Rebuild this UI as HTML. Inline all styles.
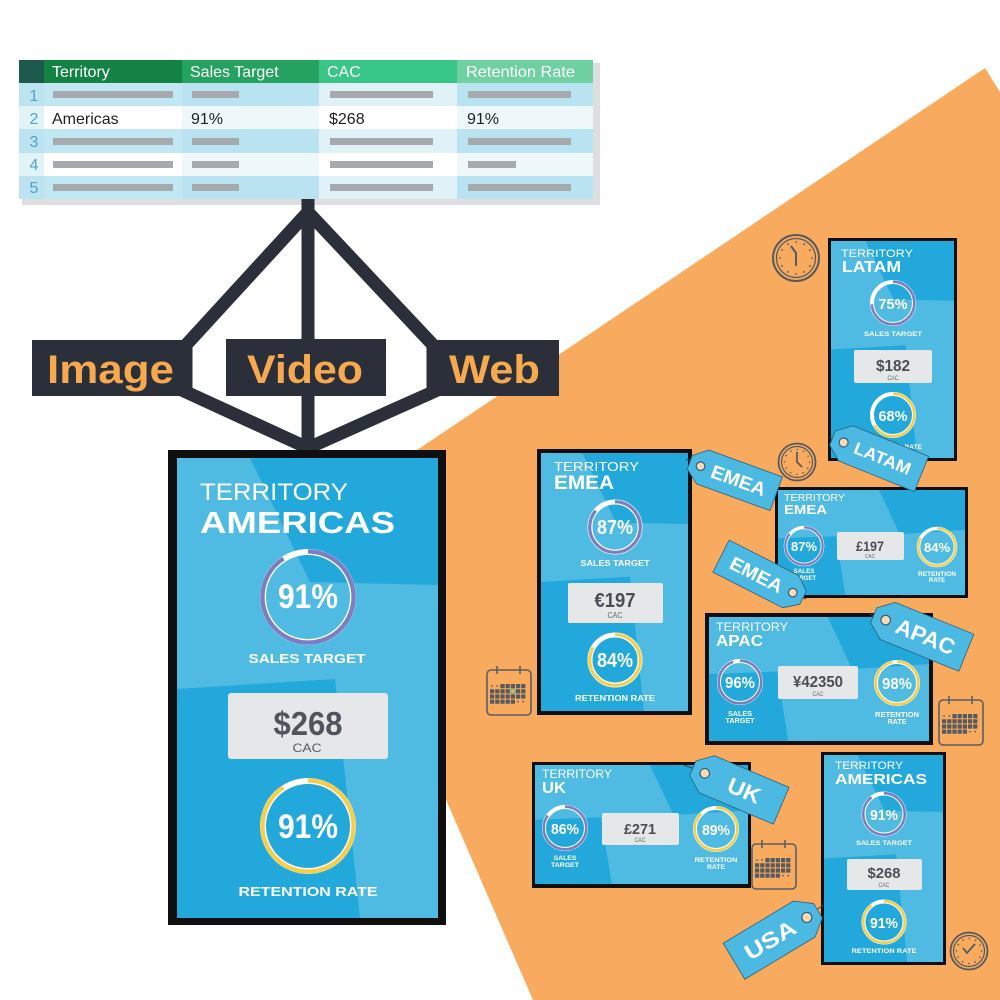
<!DOCTYPE html>
<html>
<head>
<meta charset="utf-8">
<style>
html,body{margin:0;padding:0;background:#fff;}
svg{display:block;}
text{font-family:"Liberation Sans",Arial,sans-serif;}
</style>
</head>
<body>
<svg width="1000" height="1000" viewBox="0 0 1000 1000" xmlns="http://www.w3.org/2000/svg">
<rect width="1000" height="1000" fill="#ffffff"/>
<!-- orange background -->
<polygon points="985,68 1000,92 1000,1000 533,1000 322,514" fill="#f8ab5e"/>

<!-- ===== TABLE ===== -->
<rect x="22" y="63" width="578" height="142" fill="#dcdee0"/>
<rect x="19" y="60" width="25" height="23" fill="#1c5b4b"/>
<rect x="44" y="60" width="138" height="23" fill="#138244"/>
<rect x="182" y="60" width="137" height="23" fill="#25a260"/>
<rect x="319" y="60" width="138" height="23" fill="#37c688"/>
<rect x="457" y="60" width="136" height="23" fill="#6fd1a1"/>
<!-- rows -->
<g>
<rect x="19" y="83" width="25" height="23" fill="#bce3ef"/><rect x="44" y="83" width="138" height="23" fill="#c1e7f2"/><rect x="182" y="83" width="137" height="23" fill="#b9e3f0"/><rect x="319" y="83" width="138" height="23" fill="#e0f2f8"/><rect x="457" y="83" width="136" height="23" fill="#b9e3f0"/>
<rect x="19" y="106" width="25" height="23" fill="#e2f3f8"/><rect x="44" y="106" width="138" height="23" fill="#ffffff"/><rect x="182" y="106" width="137" height="23" fill="#eef8fb"/><rect x="319" y="106" width="138" height="23" fill="#ffffff"/><rect x="457" y="106" width="136" height="23" fill="#eef8fb"/>
<rect x="19" y="129" width="25" height="24" fill="#bce3ef"/><rect x="44" y="129" width="138" height="24" fill="#c1e7f2"/><rect x="182" y="129" width="137" height="24" fill="#b9e3f0"/><rect x="319" y="129" width="138" height="24" fill="#e0f2f8"/><rect x="457" y="129" width="136" height="24" fill="#b9e3f0"/>
<rect x="19" y="153" width="25" height="23" fill="#e2f3f8"/><rect x="44" y="153" width="138" height="23" fill="#ffffff"/><rect x="182" y="153" width="137" height="23" fill="#eef8fb"/><rect x="319" y="153" width="138" height="23" fill="#ffffff"/><rect x="457" y="153" width="136" height="23" fill="#eef8fb"/>
<rect x="19" y="176" width="25" height="23" fill="#bce3ef"/><rect x="44" y="176" width="138" height="23" fill="#c1e7f2"/><rect x="182" y="176" width="137" height="23" fill="#b9e3f0"/><rect x="319" y="176" width="138" height="23" fill="#e0f2f8"/><rect x="457" y="176" width="136" height="23" fill="#b9e3f0"/>
</g>
<!-- bars -->
<g fill="#a6a9ae">
<rect x="53" y="91" width="120" height="7"/><rect x="192" y="91" width="47" height="7"/><rect x="330" y="91" width="103" height="7"/><rect x="468" y="91" width="103" height="7"/>
<rect x="53" y="138" width="120" height="7"/><rect x="192" y="138" width="47" height="7"/><rect x="330" y="138" width="103" height="7"/><rect x="468" y="138" width="103" height="7"/>
<rect x="53" y="161" width="120" height="7"/><rect x="192" y="161" width="47" height="7"/><rect x="330" y="161" width="103" height="7"/><rect x="468" y="161" width="48" height="7"/>
<rect x="53" y="184" width="120" height="7"/><rect x="192" y="184" width="47" height="7"/><rect x="330" y="184" width="103" height="7"/><rect x="468" y="184" width="103" height="7"/>
</g>
<g font-size="16" fill="#ffffff">
<text x="52" y="77">Territory</text>
<text x="190" y="77">Sales Target</text>
<text x="327" y="77">CAC</text>
<text x="466" y="77" textLength="109" lengthAdjust="spacingAndGlyphs">Retention Rate</text>
</g>
<g font-size="16" fill="#4aa6cf" text-anchor="middle">
<text x="34" y="101">1</text><text x="34" y="124">2</text><text x="34" y="147">3</text><text x="34" y="170">4</text><text x="34" y="193">5</text>
</g>
<g font-size="16" fill="#222">
<text x="52" y="124">Americas</text><text x="191" y="124">91%</text><text x="329" y="124">$268</text><text x="467" y="124">91%</text>
</g>

<!-- ===== CONNECTOR ===== -->
<g stroke="#2a2f39" stroke-width="13" fill="none">
<path d="M308,212 L186,345 L186,392 L308,448 L433,392 L433,345 Z" stroke-linejoin="miter"/>
<line x1="308" y1="199" x2="308" y2="450"/>
</g>
<rect x="32" y="340" width="160" height="56" fill="#2a2f39"/>
<rect x="226" y="339" width="160" height="57" fill="#2a2f39"/>
<rect x="427" y="340" width="132" height="56" fill="#2a2f39"/>
<g font-size="40" font-weight="bold" fill="#f6a94f">
<text x="47" y="383" textLength="127" lengthAdjust="spacingAndGlyphs">Image</text>
<text x="247" y="383" textLength="116" lengthAdjust="spacingAndGlyphs">Video</text>
<text x="449" y="383" textLength="91" lengthAdjust="spacingAndGlyphs">Web</text>
</g>

<!-- ===== MAIN CARD ===== -->
<rect x="168" y="450" width="278" height="475" fill="#0f0f0f"/>
<rect x="177" y="458" width="261" height="460" fill="#22a8da"/>
<polygon points="177,458 250,458 310,582 438,585 438,918 360,918 335,679 177,689" fill="#4fbae2"/>
<g fill="#fff">
<text x="200" y="500" font-size="24" textLength="148" lengthAdjust="spacingAndGlyphs">TERRITORY</text>
<text x="200" y="533" font-size="31" font-weight="bold" textLength="195" lengthAdjust="spacingAndGlyphs">AMERICAS</text>
</g>
<circle cx="308" cy="597" r="45" fill="none" stroke="#fff" stroke-width="6"/>
<circle cx="308" cy="597" r="45.6" fill="none" stroke="#7b7ec0" stroke-width="4.4" stroke-dasharray="260.2 400" transform="rotate(-90 308 597)"/>
<text x="308" y="608" font-size="34" font-weight="bold" fill="#fff" text-anchor="middle" textLength="60" lengthAdjust="spacingAndGlyphs">91%</text>
<text x="307" y="663" font-size="13" font-weight="bold" fill="#fff" text-anchor="middle" textLength="117" lengthAdjust="spacingAndGlyphs">SALES TARGET</text>
<rect x="228" y="693" width="160" height="66" rx="3" fill="#e6e7e9"/>
<text x="308" y="735" font-size="33" font-weight="bold" fill="#50545c" text-anchor="middle" textLength="69" lengthAdjust="spacingAndGlyphs">$268</text>
<text x="307" y="752" font-size="12" fill="#555a60" text-anchor="middle" textLength="29" lengthAdjust="spacingAndGlyphs">CAC</text>
<circle cx="308" cy="826" r="45" fill="none" stroke="#fff" stroke-width="6"/>
<circle cx="308" cy="826" r="45.6" fill="none" stroke="#f5cf4a" stroke-width="4.4" stroke-dasharray="260.2 400" transform="rotate(-90 308 826)"/>
<text x="308" y="838" font-size="34" font-weight="bold" fill="#fff" text-anchor="middle" textLength="60" lengthAdjust="spacingAndGlyphs">91%</text>
<text x="308" y="896" font-size="13" font-weight="bold" fill="#fff" text-anchor="middle" textLength="139" lengthAdjust="spacingAndGlyphs">RETENTION RATE</text>

<!-- ===== LATAM CARD ===== -->
<rect x="828" y="238" width="129" height="223" fill="#0f0f0f"/>
<rect x="831" y="241" width="123" height="217" fill="#22a8da"/>
<polygon points="831,241 865.4,241 893.7,299.6 954,300.7 954,458 917.1,458 905.4,345.2 831,349.5" fill="#4fbae2"/>
<text x="841" y="257" font-size="11" fill="#fff" textLength="72" lengthAdjust="spacingAndGlyphs">TERRITORY</text>
<text x="842" y="272" font-size="16" font-weight="bold" fill="#fff" textLength="59" lengthAdjust="spacingAndGlyphs">LATAM</text>
<circle cx="893" cy="303" r="21" fill="none" stroke="#fff" stroke-width="4"/>
<circle cx="893" cy="303" r="21.3" fill="none" stroke="#7b7ec0" stroke-width="2.6" stroke-dasharray="98.9 200" transform="rotate(-90 893 303)"/>
<text x="893" y="309" font-size="15" font-weight="bold" fill="#fff" text-anchor="middle" textLength="29" lengthAdjust="spacingAndGlyphs">75%</text>
<text x="893" y="336" font-size="6.5" font-weight="bold" fill="#fff" text-anchor="middle" textLength="58" lengthAdjust="spacingAndGlyphs">SALES TARGET</text>
<rect x="854" y="350" width="78" height="33" rx="2" fill="#e6e7e9"/>
<text x="893" y="371" font-size="16" font-weight="bold" fill="#4a4e56" text-anchor="middle" textLength="34" lengthAdjust="spacingAndGlyphs">$182</text>
<text x="893" y="380" font-size="6" fill="#666" text-anchor="middle" textLength="11" lengthAdjust="spacingAndGlyphs">CAC</text>
<circle cx="893" cy="415" r="21" fill="none" stroke="#fff" stroke-width="4"/>
<circle cx="893" cy="415" r="21.3" fill="none" stroke="#f5cf4a" stroke-width="2.6" stroke-dasharray="89.7 200" transform="rotate(-90 893 415)"/>
<text x="893" y="421" font-size="15" font-weight="bold" fill="#fff" text-anchor="middle" textLength="29" lengthAdjust="spacingAndGlyphs">68%</text>
<text x="893" y="449" font-size="6.5" font-weight="bold" fill="#fff" text-anchor="middle" textLength="58" lengthAdjust="spacingAndGlyphs">RETENTION RATE</text>

<!-- clock A -->
<g fill="none" stroke="#565a60">
<circle cx="796" cy="258" r="23" stroke-width="2"/>
<circle cx="796" cy="258" r="19.5" stroke-width="1.3"/>
<circle cx="796" cy="258" r="16" stroke-width="1.8" stroke-linecap="round" stroke-dasharray="0.01 8.367"/>
<polyline points="791,246 796,253 796,266" stroke-width="2"/>
</g>

<!-- ===== EMEA VERTICAL ===== -->
<rect x="537" y="449" width="155" height="266" fill="#0f0f0f"/>
<rect x="541" y="453" width="147" height="258" fill="#22a8da"/>
<polygon points="541,453 582.2,453 616,522.7 688,524 688,711 643.9,711 629.9,576.8 541,582" fill="#4fbae2"/>
<text x="554" y="471" font-size="13" fill="#fff" textLength="85" lengthAdjust="spacingAndGlyphs">TERRITORY</text>
<text x="554" y="489" font-size="19" font-weight="bold" fill="#fff" textLength="60" lengthAdjust="spacingAndGlyphs">EMEA</text>
<circle cx="615" cy="527" r="25" fill="none" stroke="#fff" stroke-width="5"/>
<circle cx="615" cy="527" r="25.3" fill="none" stroke="#7b7ec0" stroke-width="3.2" stroke-dasharray="136.7 300" transform="rotate(-90 615 527)"/>
<text x="615" y="534" font-size="20" font-weight="bold" fill="#fff" text-anchor="middle" textLength="36" lengthAdjust="spacingAndGlyphs">87%</text>
<text x="615" y="566" font-size="8.5" font-weight="bold" fill="#fff" text-anchor="middle" textLength="69" lengthAdjust="spacingAndGlyphs">SALES TARGET</text>
<rect x="568" y="583" width="95" height="40" rx="2" fill="#e6e7e9"/>
<text x="615" y="607" font-size="20" font-weight="bold" fill="#4a4e56" text-anchor="middle" textLength="41" lengthAdjust="spacingAndGlyphs">€197</text>
<text x="615" y="618" font-size="8" fill="#666" text-anchor="middle" textLength="15" lengthAdjust="spacingAndGlyphs">CAC</text>
<circle cx="615" cy="660" r="25" fill="none" stroke="#fff" stroke-width="5"/>
<circle cx="615" cy="660" r="25.3" fill="none" stroke="#f5cf4a" stroke-width="3.2" stroke-dasharray="132 300" transform="rotate(-90 615 660)"/>
<text x="615" y="667" font-size="20" font-weight="bold" fill="#fff" text-anchor="middle" textLength="36" lengthAdjust="spacingAndGlyphs">84%</text>
<text x="615" y="701" font-size="8.5" font-weight="bold" fill="#fff" text-anchor="middle" textLength="80" lengthAdjust="spacingAndGlyphs">RETENTION RATE</text>

<!-- ===== EMEA HORIZONTAL ===== -->
<rect x="775" y="487" width="193" height="111" fill="#0f0f0f"/>
<rect x="778" y="490" width="187" height="105" fill="#22a8da"/>
<polygon points="778,490 879,490 899.6,534.1 965,529.9 965,595 845.3,595 836,536.2 778,538.3" fill="#4fbae2"/>
<text x="784" y="501" font-size="10" fill="#fff" textLength="61" lengthAdjust="spacingAndGlyphs">TERRITORY</text>
<text x="784" y="514" font-size="13" font-weight="bold" fill="#fff" textLength="43" lengthAdjust="spacingAndGlyphs">EMEA</text>
<circle cx="804" cy="546" r="18.5" fill="none" stroke="#fff" stroke-width="3.6"/>
<circle cx="804" cy="546" r="18.7" fill="none" stroke="#7b7ec0" stroke-width="2.3" stroke-dasharray="101.1 200" transform="rotate(-90 804 546)"/>
<text x="804" y="551" font-size="13" font-weight="bold" fill="#fff" text-anchor="middle" textLength="26" lengthAdjust="spacingAndGlyphs">87%</text>
<text x="804" y="573" font-size="6" font-weight="bold" fill="#fff" text-anchor="middle" textLength="21" lengthAdjust="spacingAndGlyphs">SALES</text>
<text x="804" y="580" font-size="6" font-weight="bold" fill="#fff" text-anchor="middle" textLength="24" lengthAdjust="spacingAndGlyphs">TARGET</text>
<rect x="837" y="532" width="67" height="28" rx="2" fill="#e6e7e9"/>
<text x="870" y="551" font-size="14" font-weight="bold" fill="#4a4e56" text-anchor="middle" textLength="28" lengthAdjust="spacingAndGlyphs">£197</text>
<text x="870" y="558" font-size="5.5" fill="#666" text-anchor="middle" textLength="10" lengthAdjust="spacingAndGlyphs">CAC</text>
<circle cx="937" cy="547" r="18.5" fill="none" stroke="#fff" stroke-width="3.6"/>
<circle cx="937" cy="547" r="18.7" fill="none" stroke="#f5cf4a" stroke-width="2.3" stroke-dasharray="97.6 200" transform="rotate(-90 937 547)"/>
<text x="937" y="552" font-size="13" font-weight="bold" fill="#fff" text-anchor="middle" textLength="26" lengthAdjust="spacingAndGlyphs">84%</text>
<text x="937" y="576" font-size="6" font-weight="bold" fill="#fff" text-anchor="middle" textLength="38" lengthAdjust="spacingAndGlyphs">RETENTION</text>
<text x="937" y="582" font-size="6" font-weight="bold" fill="#fff" text-anchor="middle" textLength="16" lengthAdjust="spacingAndGlyphs">RATE</text>

<!-- clock B -->
<g fill="none" stroke="#565a60">
<circle cx="797" cy="462" r="18.5" stroke-width="1.8"/>
<circle cx="797" cy="462" r="15.5" stroke-width="1.2"/>
<circle cx="797" cy="462" r="12.5" stroke-width="1.6" stroke-linecap="round" stroke-dasharray="0.01 6.535"/>
<polyline points="797,452 797,462 802,467" stroke-width="1.8"/>
</g>

<!-- LATAM tag -->
<line x1="829" y1="437" x2="843" y2="443" stroke="#3a4450" stroke-width="1"/>
<g transform="translate(877 456) rotate(22)">
<polygon points="-48,-7.6 -33.6,-19 48,-19 48,19 -33.6,19 -48,7.6" fill="#4cb9e2" stroke="#2d5f7c" stroke-width="0.8" stroke-linejoin="round"/>
<circle cx="-36" cy="0" r="4.5" fill="#fbd9b0" stroke="#2d5f7c" stroke-width="1.2"/>
<text x="6" y="6" font-size="17" font-weight="bold" fill="#fff" text-anchor="middle" textLength="60" lengthAdjust="spacingAndGlyphs">LATAM</text>
</g>

<!-- EMEA upper tag -->
<line x1="686" y1="459" x2="700" y2="466" stroke="#3a4450" stroke-width="1"/>
<g transform="translate(733 478) rotate(20)">
<polygon points="-46,-7.2 -32.3,-18 46,-18 46,18 -32.3,18 -46,7.2" fill="#4cb9e2" stroke="#2d5f7c" stroke-width="0.8" stroke-linejoin="round"/>
<circle cx="-34.5" cy="0" r="4.3" fill="#fbd9b0" stroke="#2d5f7c" stroke-width="1.2"/>
<text x="6" y="7" font-size="19" font-weight="bold" fill="#fff" text-anchor="middle" textLength="57" lengthAdjust="spacingAndGlyphs">EMEA</text>
</g>

<!-- EMEA lower tag -->
<line x1="792" y1="592" x2="806" y2="599" stroke="#3a4450" stroke-width="1"/>
<g transform="translate(762 577) rotate(27)">
<polygon points="46,-7.2 32.3,-18 -46,-18 -46,18 32.3,18 46,7.2" fill="#4cb9e2" stroke="#2d5f7c" stroke-width="0.8" stroke-linejoin="round"/>
<circle cx="34.5" cy="0" r="4.3" fill="#fbd9b0" stroke="#2d5f7c" stroke-width="1.2"/>
<text x="-6" y="7" font-size="19" font-weight="bold" fill="#fff" text-anchor="middle" textLength="57" lengthAdjust="spacingAndGlyphs">EMEA</text>
</g>

<!-- ===== APAC ===== -->
<rect x="705" y="613" width="228" height="132" fill="#0f0f0f"/>
<rect x="709" y="617" width="220" height="124" fill="#22a8da"/>
<polygon points="709,617 827.8,617 852,669.1 929,664.1 929,741 788.2,741 777.2,671.6 709,674" fill="#4fbae2"/>
<text x="716" y="631" font-size="12" fill="#fff" textLength="72" lengthAdjust="spacingAndGlyphs">TERRITORY</text>
<text x="716" y="646" font-size="16" font-weight="bold" fill="#fff" textLength="47" lengthAdjust="spacingAndGlyphs">APAC</text>
<circle cx="740" cy="682" r="21" fill="none" stroke="#fff" stroke-width="4"/>
<circle cx="740" cy="682" r="21.3" fill="none" stroke="#7b7ec0" stroke-width="2.6" stroke-dasharray="126.7 200" transform="rotate(-90 740 682)"/>
<text x="740" y="688" font-size="16" font-weight="bold" fill="#fff" text-anchor="middle" textLength="30" lengthAdjust="spacingAndGlyphs">96%</text>
<text x="740" y="716" font-size="7" font-weight="bold" fill="#fff" text-anchor="middle" textLength="24" lengthAdjust="spacingAndGlyphs">SALES</text>
<text x="740" y="723" font-size="7" font-weight="bold" fill="#fff" text-anchor="middle" textLength="29" lengthAdjust="spacingAndGlyphs">TARGET</text>
<rect x="778" y="666" width="80" height="33" rx="2" fill="#e6e7e9"/>
<text x="818" y="687" font-size="16" font-weight="bold" fill="#4a4e56" text-anchor="middle" textLength="50" lengthAdjust="spacingAndGlyphs">¥42350</text>
<text x="818" y="696" font-size="6" fill="#666" text-anchor="middle" textLength="11" lengthAdjust="spacingAndGlyphs">CAC</text>
<circle cx="897" cy="683" r="21" fill="none" stroke="#fff" stroke-width="4"/>
<circle cx="897" cy="683" r="21.3" fill="none" stroke="#f5cf4a" stroke-width="2.6" stroke-dasharray="129.3 200" transform="rotate(-90 897 683)"/>
<text x="897" y="689" font-size="16" font-weight="bold" fill="#fff" text-anchor="middle" textLength="30" lengthAdjust="spacingAndGlyphs">98%</text>
<text x="897" y="717" font-size="7" font-weight="bold" fill="#fff" text-anchor="middle" textLength="44" lengthAdjust="spacingAndGlyphs">RETENTION</text>
<text x="897" y="724" font-size="7" font-weight="bold" fill="#fff" text-anchor="middle" textLength="19" lengthAdjust="spacingAndGlyphs">RATE</text>

<!-- APAC tag -->
<line x1="870" y1="614" x2="886" y2="620" stroke="#3a4450" stroke-width="1"/>
<g transform="translate(920 634) rotate(22)">
<polygon points="-50,-8 -34.8,-20 50,-20 50,20 -34.8,20 -50,8" fill="#4cb9e2" stroke="#2d5f7c" stroke-width="0.8" stroke-linejoin="round"/>
<circle cx="-37" cy="0" r="4.8" fill="#fbd9b0" stroke="#2d5f7c" stroke-width="1.2"/>
<text x="6" y="8" font-size="22" font-weight="bold" fill="#fff" text-anchor="middle" textLength="62" lengthAdjust="spacingAndGlyphs">APAC</text>
</g>

<!-- calendar B -->
<g>
<rect x="939" y="700" width="44" height="45" rx="4" fill="none" stroke="#5a5e64" stroke-width="1.6"/>
<line x1="949" y1="696" x2="949" y2="704" stroke="#5a5e64" stroke-width="1.6"/>
<line x1="972" y1="696" x2="972" y2="704" stroke="#5a5e64" stroke-width="1.6"/>
<path fill="#555a60" d="M952.4 714h4.2v4.2h-4.2zM957.6 714h4.2v4.2h-4.2zM962.8 714h4.2v4.2h-4.2zM968 714h4.2v4.2h-4.2zM973.2 714h4.2v4.2h-4.2zM942 719.2h4.2v4.2h-4.2zM947.2 719.2h4.2v4.2h-4.2zM952.4 719.2h4.2v4.2h-4.2zM957.6 719.2h4.2v4.2h-4.2zM962.8 719.2h4.2v4.2h-4.2zM968 719.2h4.2v4.2h-4.2zM973.2 719.2h4.2v4.2h-4.2zM942 724.4h4.2v4.2h-4.2zM947.2 724.4h4.2v4.2h-4.2zM952.4 724.4h4.2v4.2h-4.2zM957.6 724.4h4.2v4.2h-4.2zM962.8 724.4h4.2v4.2h-4.2zM968 724.4h4.2v4.2h-4.2zM973.2 724.4h4.2v4.2h-4.2zM942 729.6h4.2v4.2h-4.2zM947.2 729.6h4.2v4.2h-4.2zM952.4 729.6h4.2v4.2h-4.2zM957.6 729.6h4.2v4.2h-4.2zM962.8 729.6h4.2v4.2h-4.2z"/>
<circle cx="944" cy="716" r="0.9" fill="#555a60"/><circle cx="949.2" cy="716" r="0.9" fill="#555a60"/>
<circle cx="970" cy="731.6" r="0.9" fill="#555a60"/><circle cx="975.2" cy="731.6" r="0.9" fill="#555a60"/>
</g>

<!-- ===== UK ===== -->
<rect x="532" y="762" width="219" height="126" fill="#0f0f0f"/>
<rect x="535" y="765" width="213" height="119" fill="#22a8da"/>
<polygon points="535,765 650,765 673.5,815 748,810.2 748,884 611.7,884 601,817.4 535,819.7" fill="#4fbae2"/>
<text x="542" y="778" font-size="11.5" fill="#fff" textLength="70" lengthAdjust="spacingAndGlyphs">TERRITORY</text>
<text x="542" y="793" font-size="16" font-weight="bold" fill="#fff" textLength="24" lengthAdjust="spacingAndGlyphs">UK</text>
<circle cx="565" cy="828" r="21" fill="none" stroke="#fff" stroke-width="4"/>
<circle cx="565" cy="828" r="21.3" fill="none" stroke="#7b7ec0" stroke-width="2.6" stroke-dasharray="113.5 200" transform="rotate(-90 565 828)"/>
<text x="565" y="834" font-size="15" font-weight="bold" fill="#fff" text-anchor="middle" textLength="28" lengthAdjust="spacingAndGlyphs">86%</text>
<text x="565" y="860" font-size="6.5" font-weight="bold" fill="#fff" text-anchor="middle" textLength="23" lengthAdjust="spacingAndGlyphs">SALES</text>
<text x="565" y="867" font-size="6.5" font-weight="bold" fill="#fff" text-anchor="middle" textLength="28" lengthAdjust="spacingAndGlyphs">TARGET</text>
<rect x="602" y="813" width="77" height="32" rx="2" fill="#e6e7e9"/>
<text x="640" y="834" font-size="15" font-weight="bold" fill="#4a4e56" text-anchor="middle" textLength="32" lengthAdjust="spacingAndGlyphs">£271</text>
<text x="640" y="842" font-size="6" fill="#666" text-anchor="middle" textLength="11" lengthAdjust="spacingAndGlyphs">CAC</text>
<circle cx="716" cy="829" r="21" fill="none" stroke="#fff" stroke-width="4"/>
<circle cx="716" cy="829" r="21.3" fill="none" stroke="#f5cf4a" stroke-width="2.6" stroke-dasharray="117.4 200" transform="rotate(-90 716 829)"/>
<text x="716" y="835" font-size="15" font-weight="bold" fill="#fff" text-anchor="middle" textLength="28" lengthAdjust="spacingAndGlyphs">89%</text>
<text x="716" y="862" font-size="6.5" font-weight="bold" fill="#fff" text-anchor="middle" textLength="43" lengthAdjust="spacingAndGlyphs">RETENTION</text>
<text x="716" y="869" font-size="6.5" font-weight="bold" fill="#fff" text-anchor="middle" textLength="18" lengthAdjust="spacingAndGlyphs">RATE</text>

<!-- UK tag -->
<line x1="684" y1="765" x2="705" y2="773" stroke="#3a4450" stroke-width="1"/>
<g transform="translate(737 787) rotate(23)">
<polygon points="-48,-8 -32.8,-20 48,-20 48,20 -32.8,20 -48,8" fill="#4cb9e2" stroke="#2d5f7c" stroke-width="0.8" stroke-linejoin="round"/>
<circle cx="-35" cy="0" r="4.8" fill="#fbd9b0" stroke="#2d5f7c" stroke-width="1.2"/>
<text x="8" y="8" font-size="22" font-weight="bold" fill="#fff" text-anchor="middle" textLength="34" lengthAdjust="spacingAndGlyphs">UK</text>
</g>

<!-- calendar C -->
<g>
<rect x="752" y="844" width="44" height="45" rx="4" fill="none" stroke="#5a5e64" stroke-width="1.6"/>
<line x1="762" y1="840" x2="762" y2="848" stroke="#5a5e64" stroke-width="1.6"/>
<line x1="785" y1="840" x2="785" y2="848" stroke="#5a5e64" stroke-width="1.6"/>
<path fill="#555a60" d="M765.4 858h4.2v4.2h-4.2zM770.6 858h4.2v4.2h-4.2zM775.8 858h4.2v4.2h-4.2zM781 858h4.2v4.2h-4.2zM786.2 858h4.2v4.2h-4.2zM755 863.2h4.2v4.2h-4.2zM760.2 863.2h4.2v4.2h-4.2zM765.4 863.2h4.2v4.2h-4.2zM770.6 863.2h4.2v4.2h-4.2zM775.8 863.2h4.2v4.2h-4.2zM781 863.2h4.2v4.2h-4.2zM786.2 863.2h4.2v4.2h-4.2zM755 868.4h4.2v4.2h-4.2zM760.2 868.4h4.2v4.2h-4.2zM765.4 868.4h4.2v4.2h-4.2zM770.6 868.4h4.2v4.2h-4.2zM775.8 868.4h4.2v4.2h-4.2zM781 868.4h4.2v4.2h-4.2zM786.2 868.4h4.2v4.2h-4.2zM755 873.6h4.2v4.2h-4.2zM760.2 873.6h4.2v4.2h-4.2zM765.4 873.6h4.2v4.2h-4.2zM770.6 873.6h4.2v4.2h-4.2zM775.8 873.6h4.2v4.2h-4.2z"/>
<circle cx="757" cy="860" r="0.9" fill="#555a60"/><circle cx="762.2" cy="860" r="0.9" fill="#555a60"/>
<circle cx="783" cy="875.6" r="0.9" fill="#555a60"/><circle cx="788.2" cy="875.6" r="0.9" fill="#555a60"/>
</g>

<!-- ===== AMERICAS SMALL ===== -->
<rect x="821" y="752" width="125" height="213" fill="#0f0f0f"/>
<rect x="824" y="755" width="119" height="207" fill="#22a8da"/>
<polygon points="824,755 857.3,755 884.7,810.9 943,811.9 943,962 907.3,962 896,854.4 824,858.5" fill="#4fbae2"/>
<text x="835" y="769" font-size="11" fill="#fff" textLength="68" lengthAdjust="spacingAndGlyphs">TERRITORY</text>
<text x="835" y="784" font-size="15" font-weight="bold" fill="#fff" textLength="92" lengthAdjust="spacingAndGlyphs">AMERICAS</text>
<circle cx="884" cy="814" r="20.5" fill="none" stroke="#fff" stroke-width="4"/>
<circle cx="884" cy="814" r="20.8" fill="none" stroke="#7b7ec0" stroke-width="2.6" stroke-dasharray="117.2 200" transform="rotate(-90 884 814)"/>
<text x="884" y="820" font-size="15" font-weight="bold" fill="#fff" text-anchor="middle" textLength="28" lengthAdjust="spacingAndGlyphs">91%</text>
<text x="884" y="845" font-size="6.5" font-weight="bold" fill="#fff" text-anchor="middle" textLength="56" lengthAdjust="spacingAndGlyphs">SALES TARGET</text>
<rect x="847" y="859" width="75" height="31" rx="2" fill="#e6e7e9"/>
<text x="884" y="878" font-size="15" font-weight="bold" fill="#4a4e56" text-anchor="middle" textLength="33" lengthAdjust="spacingAndGlyphs">$268</text>
<text x="884" y="887" font-size="6" fill="#666" text-anchor="middle" textLength="11" lengthAdjust="spacingAndGlyphs">CAC</text>
<circle cx="884" cy="922" r="20.5" fill="none" stroke="#fff" stroke-width="4"/>
<circle cx="884" cy="922" r="20.8" fill="none" stroke="#f5cf4a" stroke-width="2.6" stroke-dasharray="117.2 200" transform="rotate(-90 884 922)"/>
<text x="884" y="928" font-size="15" font-weight="bold" fill="#fff" text-anchor="middle" textLength="28" lengthAdjust="spacingAndGlyphs">91%</text>
<text x="884" y="953" font-size="6.5" font-weight="bold" fill="#fff" text-anchor="middle" textLength="65" lengthAdjust="spacingAndGlyphs">RETENTION RATE</text>

<!-- USA tag -->
<line x1="807" y1="917" x2="823" y2="905" stroke="#3a4450" stroke-width="1"/>
<g transform="translate(776 936) rotate(-31)">
<polygon points="49,-8.4 33,-21 -49,-21 -49,21 33,21 49,8.4" fill="#4cb9e2" stroke="#2d5f7c" stroke-width="0.8" stroke-linejoin="round"/>
<circle cx="36" cy="0" r="5" fill="#fbd9b0" stroke="#2d5f7c" stroke-width="1.2"/>
<text x="-7" y="8" font-size="22" font-weight="bold" fill="#fff" text-anchor="middle" textLength="56" lengthAdjust="spacingAndGlyphs">USA</text>
</g>

<!-- clock C -->
<g fill="none" stroke="#565a60">
<circle cx="969" cy="951" r="18.5" stroke-width="1.8"/>
<circle cx="969" cy="951" r="15.5" stroke-width="1.2"/>
<circle cx="969" cy="951" r="12.5" stroke-width="1.6" stroke-linecap="round" stroke-dasharray="0.01 6.535"/>
<polyline points="963,948 967,953 975,944" stroke-width="1.8"/>
</g>

<!-- calendar A -->
<g>
<rect x="487" y="670" width="44" height="45" rx="4" fill="none" stroke="#5a5e64" stroke-width="1.6"/>
<line x1="497" y1="666" x2="497" y2="674" stroke="#5a5e64" stroke-width="1.6"/>
<line x1="520" y1="666" x2="520" y2="674" stroke="#5a5e64" stroke-width="1.6"/>
<path fill="#555a60" d="M500.4 684h4.2v4.2h-4.2zM505.6 684h4.2v4.2h-4.2zM510.8 684h4.2v4.2h-4.2zM516 684h4.2v4.2h-4.2zM521.2 684h4.2v4.2h-4.2zM490 689.2h4.2v4.2h-4.2zM495.2 689.2h4.2v4.2h-4.2zM500.4 689.2h4.2v4.2h-4.2zM505.6 689.2h4.2v4.2h-4.2zM516 689.2h4.2v4.2h-4.2zM521.2 689.2h4.2v4.2h-4.2zM490 694.4h4.2v4.2h-4.2zM495.2 694.4h4.2v4.2h-4.2zM500.4 694.4h4.2v4.2h-4.2zM505.6 694.4h4.2v4.2h-4.2zM510.8 694.4h4.2v4.2h-4.2zM516 694.4h4.2v4.2h-4.2zM521.2 694.4h4.2v4.2h-4.2zM490 699.6h4.2v4.2h-4.2zM495.2 699.6h4.2v4.2h-4.2zM500.4 699.6h4.2v4.2h-4.2zM505.6 699.6h4.2v4.2h-4.2zM510.8 699.6h4.2v4.2h-4.2z"/>
<circle cx="512.9" cy="691.3" r="2.6" fill="none" stroke="#3fbf7f" stroke-width="1"/>
<circle cx="492" cy="686" r="0.9" fill="#555a60"/><circle cx="497.2" cy="686" r="0.9" fill="#555a60"/>
<circle cx="518" cy="701.6" r="0.9" fill="#555a60"/><circle cx="523.2" cy="701.6" r="0.9" fill="#555a60"/>
</g>
</svg>
</body>
</html>
